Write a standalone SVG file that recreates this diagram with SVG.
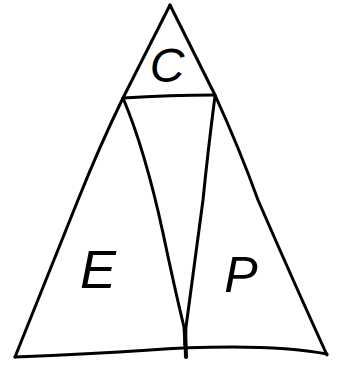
<svg xmlns="http://www.w3.org/2000/svg" width="337" height="365" viewBox="0 0 337 365">
<style>
.ln{fill:none;stroke:#000;stroke-width:3;stroke-linecap:round;stroke-linejoin:round}
.lb{font-family:"Liberation Sans",Arial,sans-serif;font-style:italic;fill:#000;text-anchor:middle}
</style>
<rect width="337" height="365" fill="#fff"/>
<g id="connectors">
<path class="ln" d="M170,5 L123,98 Q100,145 78,200 L15,357"/>
<path class="ln" d="M170,5 L215,95 Q240,150 258,200 Q295,285 327,355"/>
<path class="ln" d="M15,357 Q90,354 150,350 Q185,347 233,347 Q290,347 327,354"/>
<path class="ln" d="M123,98 Q170,95 215,95"/>
<path class="ln" d="M123,98 Q145,150 163,233 Q175,290 184,327 L185,345"/>
<path class="ln" d="M215,96 Q208,150 203,200 Q195,260 186,327 L185,345"/>
<path class="ln" d="M185,327 L186,357" style="stroke-width:4"/>
</g>
<g id="node-C"><text class="lb" x="167" y="82" font-size="48">C</text></g>
<g id="node-E"><text class="lb" x="98" y="288" font-size="54">E</text></g>
<g id="node-P"><text class="lb" x="241" y="292" font-size="50">P</text></g>
</svg>
